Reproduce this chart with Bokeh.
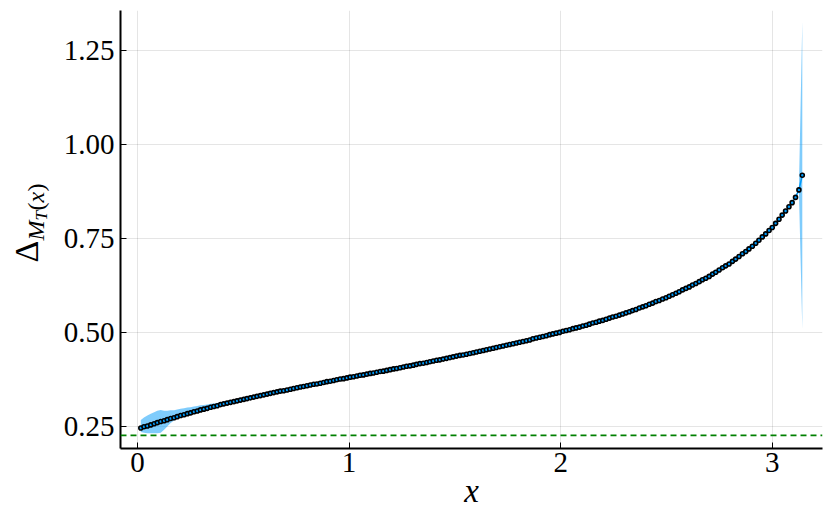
import math
from bokeh.plotting import figure
from bokeh.layouts import row
from bokeh.models import Range1d, FixedTicker, Span, Label
from bokeh.embed import file_html
from bokeh.resources import INLINE

# ---- data ----
x_vals = [
    0.016, 0.031, 0.047, 0.063, 0.079, 0.094, 0.110, 0.126, 0.141, 0.157,
    0.173, 0.188, 0.204, 0.220, 0.236, 0.251, 0.267, 0.283, 0.298, 0.314,
    0.330, 0.346, 0.361, 0.377, 0.393, 0.408, 0.424, 0.440, 0.456, 0.471,
    0.487, 0.503, 0.518, 0.534, 0.550, 0.565, 0.581, 0.597, 0.613, 0.628,
    0.644, 0.660, 0.675, 0.691, 0.707, 0.723, 0.738, 0.754, 0.770, 0.785,
    0.801, 0.817, 0.833, 0.848, 0.864, 0.880, 0.895, 0.911, 0.927, 0.942,
    0.958, 0.974, 0.990, 1.005, 1.021, 1.037, 1.052, 1.068, 1.084, 1.100,
    1.115, 1.131, 1.147, 1.162, 1.178, 1.194, 1.210, 1.225, 1.241, 1.257,
    1.272, 1.288, 1.304, 1.319, 1.335, 1.351, 1.367, 1.382, 1.398, 1.414,
    1.429, 1.445, 1.461, 1.477, 1.492, 1.508, 1.524, 1.539, 1.555, 1.571,
    1.587, 1.602, 1.618, 1.634, 1.649, 1.665, 1.681, 1.696, 1.712, 1.728,
    1.744, 1.759, 1.775, 1.791, 1.806, 1.822, 1.838, 1.854, 1.869, 1.885,
    1.901, 1.916, 1.932, 1.948, 1.963, 1.979, 1.995, 2.011, 2.026, 2.042,
    2.058, 2.073, 2.089, 2.105, 2.121, 2.136, 2.152, 2.168, 2.183, 2.199,
    2.215, 2.231, 2.246, 2.262, 2.278, 2.293, 2.309, 2.325, 2.340, 2.356,
    2.372, 2.388, 2.403, 2.419, 2.435, 2.450, 2.466, 2.482, 2.498, 2.513,
    2.529, 2.545, 2.560, 2.576, 2.592, 2.608, 2.623, 2.639, 2.655, 2.670,
    2.686, 2.702, 2.718, 2.733, 2.749, 2.765, 2.780, 2.796, 2.812, 2.827,
    2.843, 2.859, 2.875, 2.890, 2.906, 2.922, 2.937, 2.953, 2.969, 2.985,
    3.000, 3.016, 3.032, 3.047, 3.063, 3.079, 3.094, 3.110, 3.126, 3.142,
]

delta_vals = [
    0.247, 0.250, 0.252, 0.255, 0.258, 0.261, 0.264, 0.266, 0.269, 0.272,
    0.274, 0.277, 0.280, 0.282, 0.285, 0.287, 0.290, 0.292, 0.295, 0.297,
    0.299, 0.302, 0.304, 0.306, 0.309, 0.311, 0.313, 0.315, 0.317, 0.319,
    0.321, 0.323, 0.325, 0.327, 0.329, 0.331, 0.333, 0.335, 0.337, 0.339,
    0.341, 0.343, 0.345, 0.346, 0.348, 0.350, 0.352, 0.354, 0.356, 0.357,
    0.359, 0.361, 0.363, 0.364, 0.366, 0.368, 0.370, 0.371, 0.373, 0.375,
    0.377, 0.378, 0.380, 0.382, 0.383, 0.385, 0.387, 0.388, 0.390, 0.392,
    0.393, 0.395, 0.397, 0.398, 0.400, 0.402, 0.404, 0.405, 0.407, 0.409,
    0.411, 0.412, 0.414, 0.416, 0.418, 0.419, 0.421, 0.423, 0.425, 0.427,
    0.428, 0.430, 0.432, 0.434, 0.436, 0.438, 0.440, 0.441, 0.443, 0.445,
    0.447, 0.449, 0.451, 0.453, 0.455, 0.457, 0.459, 0.461, 0.463, 0.465,
    0.467, 0.469, 0.471, 0.473, 0.475, 0.477, 0.479, 0.481, 0.484, 0.486,
    0.488, 0.490, 0.492, 0.495, 0.497, 0.499, 0.501, 0.504, 0.506, 0.508,
    0.511, 0.513, 0.515, 0.518, 0.520, 0.523, 0.526, 0.528, 0.531, 0.533,
    0.536, 0.539, 0.542, 0.544, 0.547, 0.550, 0.553, 0.556, 0.559, 0.562,
    0.566, 0.569, 0.572, 0.576, 0.579, 0.583, 0.586, 0.590, 0.593, 0.597,
    0.601, 0.605, 0.609, 0.614, 0.618, 0.622, 0.627, 0.631, 0.636, 0.641,
    0.645, 0.650, 0.656, 0.661, 0.667, 0.673, 0.678, 0.683, 0.690, 0.696,
    0.703, 0.710, 0.716, 0.723, 0.730, 0.738, 0.746, 0.755, 0.763, 0.772,
    0.780, 0.791, 0.802, 0.813, 0.824, 0.835, 0.846, 0.860, 0.880, 0.919,
]

# ribbon half-widths (upper / lower), zero where the band is hidden
band_upper_off = ([0.021, 0.025, 0.028, 0.030, 0.031, 0.032, 0.031, 0.027, 0.024, 0.022,
                   0.020, 0.019, 0.018, 0.017, 0.016, 0.015, 0.014, 0.013, 0.012, 0.011,
                   0.010, 0.009, 0.008, 0.007, 0.006, 0.005, 0.004, 0.003, 0.002, 0.001]
                  + [0.0] * 167 + [0.001, 0.003, 0.409])
band_lower_off = ([0.011, 0.016, 0.019, 0.022, 0.025, 0.028, 0.030, 0.024, 0.018, 0.012,
                   0.007, 0.004, 0.002, 0.001]
                  + [0.0] * 183 + [0.001, 0.003, 0.408])

reference_level = 0.227

x_ticks = [0, 1, 2, 3]
x_tick_labels = ["0", "1", "2", "3"]
y_ticks = [0.25, 0.5, 0.75, 1.0, 1.25]
y_tick_labels = ["0.25", "0.50", "0.75", "1.00", "1.25"]

band_lo = [y - d for y, d in zip(delta_vals, band_lower_off)]
band_hi = [y + d for y, d in zip(delta_vals, band_upper_off)]

SERIES = "#009AFA"
FONT = "Liberation Serif"
LEFT_W = 60
TOTAL_W = 831
H = 515
TOP, BOTTOM = 10, 67

# ---- main figure ----
p = figure(width=TOTAL_W - LEFT_W, height=H, output_backend="svg", toolbar_location=None,
           x_range=Range1d(-0.080, 3.2375), y_range=Range1d(0.1923, 1.357),
           min_border_left=118 - LEFT_W, min_border_right=9, min_border_top=TOP,
           min_border_bottom=BOTTOM)
p.outline_line_color = None
p.background_fill_color = "white"
p.border_fill_color = "white"

for ax in (p.xaxis, p.yaxis):
    ax.axis_line_color = "black"
    ax.axis_line_width = 2
    ax.major_tick_in = 6
    ax.major_tick_out = 0
    ax.minor_tick_line_color = None
    ax.major_tick_line_color = "black"
    ax.major_label_text_font = FONT
    ax.major_label_text_font_size = "29px"
    ax.major_label_text_color = "black"

p.xaxis.ticker = FixedTicker(ticks=x_ticks)
p.xaxis.major_label_overrides = {t: s for t, s in zip(x_ticks, x_tick_labels)}
p.yaxis.ticker = FixedTicker(ticks=y_ticks)
p.yaxis.major_label_overrides = {t: s for t, s in zip(y_ticks, y_tick_labels)}
p.xaxis.major_label_standoff = 4
p.yaxis.major_label_standoff = 6

p.xaxis.axis_label = "x"
p.xaxis.axis_label_text_font = FONT
p.xaxis.axis_label_text_font_style = "italic"
p.xaxis.axis_label_text_font_size = "33px"
p.xaxis.axis_label_text_color = "black"
p.xaxis.axis_label_standoff = -2

p.grid.grid_line_color = "black"
p.grid.grid_line_alpha = 0.1
p.grid.grid_line_width = 1
p.xgrid.ticker = FixedTicker(ticks=x_ticks)
p.ygrid.ticker = FixedTicker(ticks=y_ticks)

# ribbon, line and markers
p.varea(x=x_vals, y1=band_lo, y2=band_hi, fill_color=SERIES, fill_alpha=0.5)
p.line(x_vals, delta_vals, line_color=SERIES, line_width=1.5)
p.scatter(x_vals, delta_vals, size=4.0, fill_color=SERIES, line_color="black",
          line_width=1.6)

p.add_layout(Span(location=reference_level, dimension="width", line_color="#008000",
                  line_dash="6 4", line_width=1.8))

# ---- narrow figure that carries the y axis title (Δ_{M_T(x)}) ----
# its data coordinates equal page pixels (x from the left, y from the top)
lab = figure(width=LEFT_W, height=H, output_backend="svg", toolbar_location=None,
             x_range=Range1d(0, LEFT_W), y_range=Range1d(H - BOTTOM, TOP),
             x_axis_type=None, y_axis_type=None,
             min_border_left=0, min_border_right=0, min_border_top=TOP,
             min_border_bottom=BOTTOM)
lab.outline_line_color = None
lab.grid.visible = False
lab.background_fill_color = "white"
lab.border_fill_color = "white"

def txt(text, x, y, size, style="normal"):
    return Label(x=x, y=y, text=text, angle=math.pi / 2,
                 text_font=FONT, text_font_size=f"{size}px",
                 text_font_style=style, text_align="left",
                 text_baseline="middle", text_color="black")

lab.add_layout(txt("\u0394", 25.5, 262, 34))
lab.add_layout(txt("M", 35, 240, 24, "italic"))
lab.add_layout(txt("T", 41, 220, 17, "italic"))
lab.add_layout(txt("(", 35, 210, 24))
lab.add_layout(txt("x", 35, 202, 24, "italic"))
lab.add_layout(txt(")", 35, 191, 24))

layout = row(lab, p, spacing=0)

open("out.html", "w").write(file_html(layout, INLINE))
